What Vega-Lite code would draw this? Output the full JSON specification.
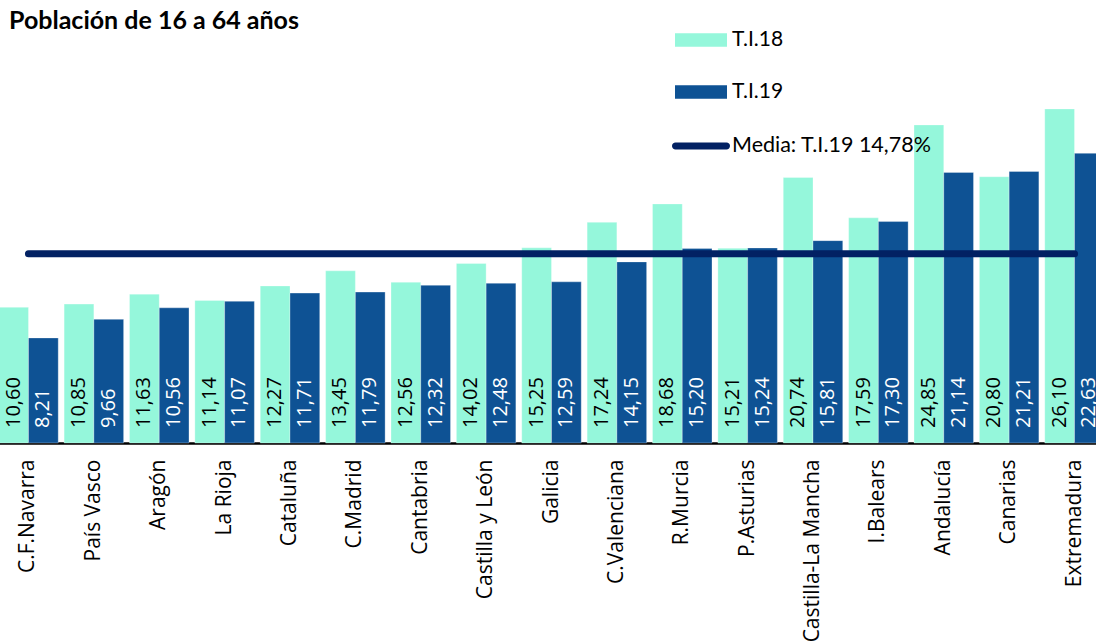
{
  "$schema": "https://vega.github.io/schema/vega-lite/v6.json",
  "width": 1096,
  "height": 384,
  "autosize": "none",
  "padding": {"left": 0, "top": 59, "right": 0, "bottom": 198},
  "background": "white",
  "title": {
    "text": "Población de 16 a 64 años",
    "anchor": "start",
    "frame": "group",
    "orient": "top",
    "font": "Lato",
    "fontWeight": "bold",
    "fontSize": 25,
    "color": "black",
    "baseline": "alphabetic",
    "offset": 25,
    "dx": 9,
    "dy": 65
  },
  "config": {
    "view": {"stroke": null},
    "locale": {"number": {"decimal": ",", "thousands": ".", "grouping": [3], "currency": ["", " €"]}}
  },
  "datasets": {
    "tasas": [
      {"region": "C.F.Navarra", "serie": "T.I.18", "valor": 10.60},
      {"region": "C.F.Navarra", "serie": "T.I.19", "valor": 8.21},
      {"region": "País Vasco", "serie": "T.I.18", "valor": 10.85},
      {"region": "País Vasco", "serie": "T.I.19", "valor": 9.66},
      {"region": "Aragón", "serie": "T.I.18", "valor": 11.63},
      {"region": "Aragón", "serie": "T.I.19", "valor": 10.56},
      {"region": "La Rioja", "serie": "T.I.18", "valor": 11.14},
      {"region": "La Rioja", "serie": "T.I.19", "valor": 11.07},
      {"region": "Cataluña", "serie": "T.I.18", "valor": 12.27},
      {"region": "Cataluña", "serie": "T.I.19", "valor": 11.71},
      {"region": "C.Madrid", "serie": "T.I.18", "valor": 13.45},
      {"region": "C.Madrid", "serie": "T.I.19", "valor": 11.79},
      {"region": "Cantabria", "serie": "T.I.18", "valor": 12.56},
      {"region": "Cantabria", "serie": "T.I.19", "valor": 12.32},
      {"region": "Castilla y León", "serie": "T.I.18", "valor": 14.02},
      {"region": "Castilla y León", "serie": "T.I.19", "valor": 12.48},
      {"region": "Galicia", "serie": "T.I.18", "valor": 15.25},
      {"region": "Galicia", "serie": "T.I.19", "valor": 12.59},
      {"region": "C.Valenciana", "serie": "T.I.18", "valor": 17.24},
      {"region": "C.Valenciana", "serie": "T.I.19", "valor": 14.15},
      {"region": "R.Murcia", "serie": "T.I.18", "valor": 18.68},
      {"region": "R.Murcia", "serie": "T.I.19", "valor": 15.20},
      {"region": "P.Asturias", "serie": "T.I.18", "valor": 15.21},
      {"region": "P.Asturias", "serie": "T.I.19", "valor": 15.24},
      {"region": "Castilla-La Mancha", "serie": "T.I.18", "valor": 20.74},
      {"region": "Castilla-La Mancha", "serie": "T.I.19", "valor": 15.81},
      {"region": "I.Balears", "serie": "T.I.18", "valor": 17.59},
      {"region": "I.Balears", "serie": "T.I.19", "valor": 17.30},
      {"region": "Andalucía", "serie": "T.I.18", "valor": 24.85},
      {"region": "Andalucía", "serie": "T.I.19", "valor": 21.14},
      {"region": "Canarias", "serie": "T.I.18", "valor": 20.80},
      {"region": "Canarias", "serie": "T.I.19", "valor": 21.21},
      {"region": "Extremadura", "serie": "T.I.18", "valor": 26.10},
      {"region": "Extremadura", "serie": "T.I.19", "valor": 22.63}
    ],
    "media": [
      {"region": "C.F.Navarra", "leyenda": "Media: T.I.19 14,78%", "valor": 14.78},
      {"region": "País Vasco", "leyenda": "Media: T.I.19 14,78%", "valor": 14.78},
      {"region": "Aragón", "leyenda": "Media: T.I.19 14,78%", "valor": 14.78},
      {"region": "La Rioja", "leyenda": "Media: T.I.19 14,78%", "valor": 14.78},
      {"region": "Cataluña", "leyenda": "Media: T.I.19 14,78%", "valor": 14.78},
      {"region": "C.Madrid", "leyenda": "Media: T.I.19 14,78%", "valor": 14.78},
      {"region": "Cantabria", "leyenda": "Media: T.I.19 14,78%", "valor": 14.78},
      {"region": "Castilla y León", "leyenda": "Media: T.I.19 14,78%", "valor": 14.78},
      {"region": "Galicia", "leyenda": "Media: T.I.19 14,78%", "valor": 14.78},
      {"region": "C.Valenciana", "leyenda": "Media: T.I.19 14,78%", "valor": 14.78},
      {"region": "R.Murcia", "leyenda": "Media: T.I.19 14,78%", "valor": 14.78},
      {"region": "P.Asturias", "leyenda": "Media: T.I.19 14,78%", "valor": 14.78},
      {"region": "Castilla-La Mancha", "leyenda": "Media: T.I.19 14,78%", "valor": 14.78},
      {"region": "I.Balears", "leyenda": "Media: T.I.19 14,78%", "valor": 14.78},
      {"region": "Andalucía", "leyenda": "Media: T.I.19 14,78%", "valor": 14.78},
      {"region": "Canarias", "leyenda": "Media: T.I.19 14,78%", "valor": 14.78},
      {"region": "Extremadura", "leyenda": "Media: T.I.19 14,78%", "valor": 14.78}
    ]
  },
  "encoding": {
    "x": {
      "field": "region",
      "type": "nominal",
      "sort": null,
      "scale": {"range": [-4.2, 1107.2], "paddingInner": 0.09, "paddingOuter": 0.045},
      "axis": {
        "title": null,
        "labelAngle": 270,
        "labelAlign": "right",
        "labelBaseline": "middle",
        "labelFont": "Open Sans",
        "labelFontSize": 21,
        "labelColor": "black",
        "labelPadding": 16,
        "labelLimit": 400,
        "ticks": false,
        "domainColor": "black",
        "domainWidth": 2.5
      }
    }
  },
  "layer": [
    {
      "data": {"name": "tasas"},
      "mark": {"type": "bar", "stroke": "white", "strokeWidth": 0.6, "strokeOpacity": 0.5},
      "encoding": {
        "xOffset": {"field": "serie", "type": "nominal", "scale": {"paddingInner": 0, "paddingOuter": 0}},
        "y": {"field": "valor", "type": "quantitative", "scale": {"domain": [0, 30]}, "axis": null},
        "fill": {
          "field": "serie",
          "type": "nominal",
          "scale": {"domain": ["T.I.18", "T.I.19"], "range": ["#95F7DB", "#0E5294"]},
          "legend": {
            "title": null,
            "orient": "none",
            "legendX": 675,
            "legendY": -45,
            "symbolType": "M-1,-0.26H1V0.26H-1Z",
            "symbolSize": 2704,
            "symbolStrokeWidth": 0,
            "labelFont": "Lato",
            "labelFontSize": 21,
            "labelColor": "black",
            "labelOffset": 5,
            "rowPadding": 16
          }
        }
      }
    },
    {
      "data": {"name": "tasas"},
      "mark": {"type": "text", "angle": 270, "align": "left", "baseline": "middle", "dx": 15, "font": "Open Sans", "fontSize": 20},
      "encoding": {
        "xOffset": {"field": "serie", "type": "nominal"},
        "y": {"datum": 0, "type": "quantitative"},
        "text": {"field": "valor", "type": "quantitative", "format": ".2f"},
        "fill": {"condition": {"test": "datum.serie === 'T.I.19'", "value": "white"}, "value": "black"}
      }
    },
    {
      "data": {"name": "media"},
      "mark": {"type": "line", "strokeWidth": 7, "strokeCap": "round"},
      "encoding": {
        "y": {"field": "valor", "type": "quantitative"},
        "stroke": {
          "field": "leyenda",
          "type": "nominal",
          "scale": {"range": ["#022163"]},
          "legend": {
            "title": null,
            "orient": "none",
            "legendX": 672,
            "legendY": 58,
            "symbolType": "M-0.88,-0.12H0.88A0.12,0.12 0 0 1 0.88,0.12H-0.88A0.12,0.12 0 0 1 -0.88,-0.12Z",
            "symbolSize": 3364,
            "symbolFillColor": "#022163",
            "symbolStrokeWidth": 0,
            "labelFont": "Lato",
            "labelFontSize": 21.5,
            "labelColor": "black",
            "labelOffset": 2,
            "labelLimit": 400
          }
        }
      }
    }
  ]
}
